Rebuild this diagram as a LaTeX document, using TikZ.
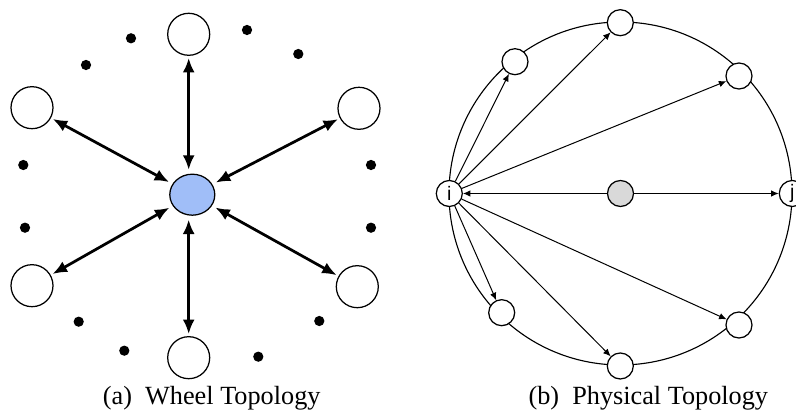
\documentclass[tikz,border=0pt]{standalone}
\usepackage{fontspec}
\setmainfont{Liberation Serif}
\newfontfamily\lblfont{Liberation Sans}
\usetikzlibrary{arrows.meta,shapes.geometric}

\definecolor{hubblue}{RGB}{160,190,248}
\definecolor{relaygray}{RGB}{217,217,217}

\begin{document}
\begin{tikzpicture}[x=0.4pt,y=-0.4pt]
    \tikzstyle{every node}+=[inner sep=0pt]
    \tikzstyle{peer}=[circle,draw,line width=0.5pt,fill=white,minimum size=16.8pt]
    \tikzstyle{hubnode}=[ellipse,draw,line width=0.5pt,fill=hubblue,minimum width=18pt,minimum height=16.4pt]
    \tikzstyle{dot}=[circle,fill=black,minimum size=4.1pt]
    \tikzstyle{spoke}=[line width=1.1pt,{Latex[length=5.8pt,width=4.8pt]}-{Latex[length=5.8pt,width=4.8pt]},shorten <=0.8pt,shorten >=1.5pt]
    \tikzstyle{relay}=[circle,draw,line width=0.5pt,fill=white,minimum size=10.4pt,font=\lblfont\fontsize{7.8}{8}\selectfont]
    \tikzstyle{link}=[line width=0.4pt,-{Latex[length=3pt,width=2.6pt]}]
    \tikzstyle{caption}=[font=\fontsize{10.5}{12}\selectfont]
    \useasboundingbox (0,0) rectangle (796,418);

    % wheel
    \node[peer] (n) at (188.7,34.3) {};
    \node[peer] (nw) at (32,107.7) {};
    \node[peer] (ne) at (359,108.3) {};
    \node[peer] (sw) at (32,285.7) {};
    \node[peer] (se) at (357.3,286.7) {};
    \node[peer] (s) at (188.7,357.7) {};
    \node[hubnode] (hub) at (192.3,194.7) {};
    \node[dot] (d1) at (131,38.3) {};
    \node[dot] (d2) at (86,65) {};
    \node[dot] (d3) at (247,30) {};
    \node[dot] (d4) at (298.3,54) {};
    \node[dot] (d5) at (23.3,165) {};
    \node[dot] (d6) at (371,165) {};
    \node[dot] (d7) at (25,227.7) {};
    \node[dot] (d8) at (371,227.7) {};
    \node[dot] (d9) at (78.7,321.7) {};
    \node[dot] (d10) at (319.3,321) {};
    \node[dot] (d11) at (124.3,350.7) {};
    \node[dot] (d12) at (258.3,356.7) {};
    \draw[spoke] (n) -- (n |- hub.north);
    \draw[spoke] (s) -- (s |- hub.south);
    \draw[spoke] (nw) -- (hub);
    \draw[spoke] (ne) -- (hub);
    \draw[spoke] (sw) -- (hub);
    \draw[spoke] (se) -- (hub);
    \node[caption] (capa) at (211.7,398) {(a)\enspace Wheel Topology};

    % physical ring
    \coordinate (ctr) at (620.5,193.5);
    \draw[line width=0.45pt] (ctr) circle (171.5);
    \node[relay] (i) at (449.3,193.5) {i};
    \node[relay] (j) at (792.3,193.5) {j};
    \node[relay] (r1) at (620.3,22.7) {};
    \node[relay] (r2) at (515,61.7) {};
    \node[relay] (r3) at (739,76) {};
    \node[relay] (r4) at (501.7,312.7) {};
    \node[relay] (r5) at (620.3,366) {};
    \node[relay] (r6) at (739,325) {};
    \node[relay,fill=relaygray] (c) at (ctr) {};
    \draw[link] (c) -- (i);
    \draw[link] (c) -- (j);
    \draw[link] (i) -- (r1);
    \draw[link] (i) -- (r2);
    \draw[link] (i) -- (r3);
    \draw[link] (i) -- (r4);
    \draw[link] (i) -- (r5);
    \draw[link] (i) -- (r6);
    \node[caption] (capb) at (648.3,398) {(b)\enspace Physical Topology};
\end{tikzpicture}
\end{document}
